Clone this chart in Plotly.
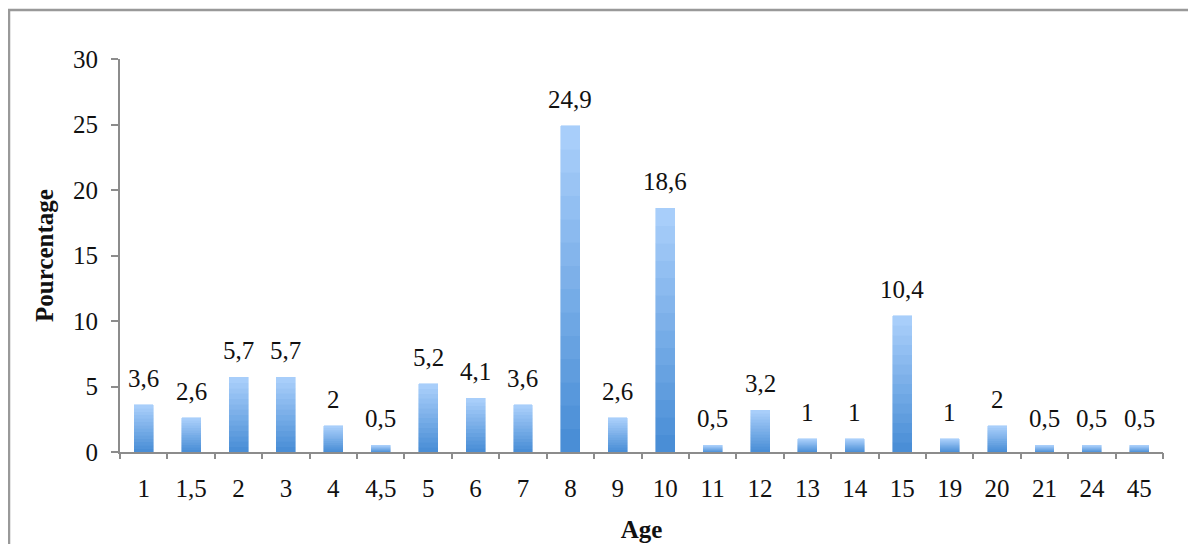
import plotly.graph_objects as go

ages = ["1", "1,5", "2", "3", "4", "4,5", "5", "6", "7", "8", "9", "10", "11", "12",
        "13", "14", "15", "19", "20", "21", "24", "45"]
values = [3.6, 2.6, 5.7, 5.7, 2, 0.5, 5.2, 4.1, 3.6, 24.9, 2.6, 18.6, 0.5, 3.2,
          1, 1, 10.4, 1, 2, 0.5, 0.5, 0.5]
value_labels = [("%g" % v).replace(".", ",") for v in values]

# page has an 8px body margin, so the figure is sized to fit the window
W, H = 1188, 536
L, R, T, B = 112, 33, 51, 92
FONT = "Liberation Serif"
FS = 25

# vertical gradient per bar: stacked slices, dark at bottom -> light at top
N = 14
c0 = (74, 142, 214)
c1 = (168, 206, 250)
xi = list(range(len(ages)))
fig = go.Figure()
for i in range(N):
    f = i / (N - 1)
    col = "rgb(%d,%d,%d)" % tuple(round(a + (b - a) * f) for a, b in zip(c0, c1))
    fig.add_trace(go.Bar(
        x=xi, y=[v / N for v in values],
        marker=dict(color=col, line=dict(width=0.6, color=col)),
        hoverinfo="skip", showlegend=False,
    ))

for k, (v, t) in enumerate(zip(values, value_labels)):
    fig.add_annotation(x=k, y=v, text=t, showarrow=False, yanchor="bottom",
                       yshift=11, font=dict(family=FONT, size=FS, color="#111"))

pw, ph = W - L - R, H - T - B
def px(x):
    return (x - L) / pw
def py(y):
    return (H - B - y) / ph

frame = "#999999"
fig.add_shape(type="line", xref="paper", yref="paper", x0=px(0), x1=px(W),
              y0=py(2), y1=py(2), line=dict(color=frame, width=2.5))
fig.add_shape(type="line", xref="paper", yref="paper", x0=px(1), x1=px(1),
              y0=py(2), y1=py(H), line=dict(color=frame, width=2.5))

axcol = "#8c8c8c"
fig.update_layout(
    width=W, height=H, barmode="stack", bargap=0.6,
    margin=dict(l=L, r=R, t=T, b=B, pad=0, autoexpand=False),
    paper_bgcolor="white", plot_bgcolor="white",
    font=dict(family=FONT, size=FS, color="#111"),
    xaxis=dict(tickmode="array", tickvals=xi, ticktext=ages, range=[-0.5, len(ages) - 0.5],
               tickangle=0, showline=True, linecolor=axcol, linewidth=2, automargin=False,
               ticks="", showgrid=False, zeroline=False, ticklabelstandoff=13,
               title=dict(text="<b>Age</b>", standoff=19,
                          font=dict(family=FONT, size=FS))),
    xaxis2=dict(overlaying="x", range=[-0.5, len(ages) - 0.5], tickmode="array",
                tickvals=[k - 0.5 for k in range(len(ages) + 1)], showticklabels=False,
                ticks="outside", ticklen=6, tickwidth=2, tickcolor=axcol, automargin=False,
                side="bottom", showgrid=False, zeroline=False, showline=False),
    yaxis=dict(range=[0, 30], dtick=5, showline=True, linecolor=axcol, linewidth=2,
               ticks="outside", ticklen=7, tickwidth=2, tickcolor=axcol, automargin=False,
               showgrid=False, zeroline=False, ticklabelstandoff=8,
               title=dict(text="<b>Pourcentage</b>", standoff=12,
                          font=dict(family=FONT, size=FS))),
)
# invisible trace to activate the tick-boundary axis
fig.add_trace(go.Scatter(x=[0], y=[0], xaxis="x2", mode="markers",
                         marker=dict(opacity=0), hoverinfo="skip", showlegend=False))

fig.write_html("out.html")
